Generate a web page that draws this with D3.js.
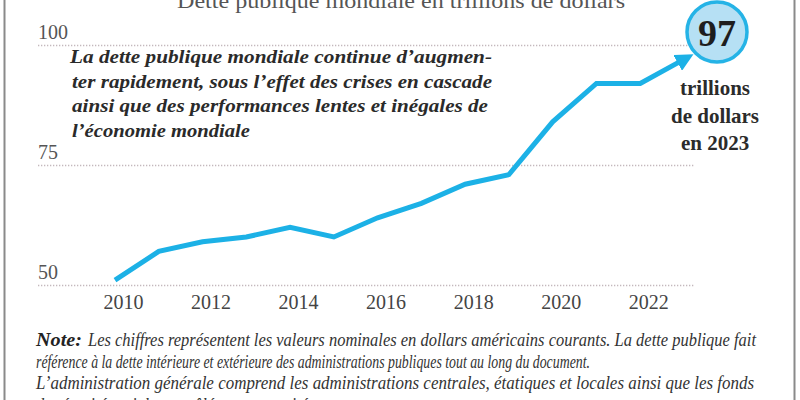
<!DOCTYPE html>
<html><head><meta charset="utf-8">
<script src="https://cdn.jsdelivr.net/npm/d3@7"></script>
<style>html,body{margin:0;padding:0;background:#fff;}svg{display:block;}</style>
</head><body>
<script>
const years = [2010,2011,2012,2013,2014,2015,2016,2017,2018,2019,2020,2021,2022,2023];
const debt  = [51,57,59,60,62,60,64,67,71,73,84,92,92,97];
const yTicks = [50,75,100];
const xTickYears = [2010,2012,2014,2016,2018,2020,2022];
const title = "Dette publique mondiale en trillions de dollars";
const annotLines = ["La dette publique mondiale continue d\u2019augmen-","ter rapidement, sous l\u2019effet des crises en cascade","ainsi que des performances lentes et inégales de","l\u2019économie mondiale"];
const calloutValue = "97";
const calloutLines = ["trillions","de dollars","en 2023"];
const noteLabel = "Note:";
const noteLines = [
 "Les chiffres représentent les valeurs nominales en dollars américains courants. La dette publique fait",
 "référence à la dette intérieure et extérieure des administrations publiques tout au long du document.",
 "L\u2019administration générale comprend les administrations centrales, étatiques et locales ainsi que les fonds",
 "de sécurité sociale contrôlés par ces unités."
];

const W=800,H=400;
const svg=d3.select("body").append("svg").attr("width",W).attr("height",H);
const serif="'Liberation Serif','Times New Roman',serif";
const blue="#1cb1e6";

const x=d3.scaleLinear().domain([2010,2023]).range([115,684]);
const y=d3.scaleLinear().domain([50,100]).range([285,45]);

// frame
svg.append("line").attr("x1",4.5).attr("x2",4.5).attr("y1",0).attr("y2",H).attr("stroke","#8a8a8a").attr("stroke-width",2);
svg.append("line").attr("x1",794.5).attr("x2",794.5).attr("y1",0).attr("y2",H).attr("stroke","#8a8a8a").attr("stroke-width",2);

// title (cut at top)
svg.append("text").attr("x",401).attr("y",8).attr("text-anchor","middle")
 .attr("font-family",serif).attr("font-size",21).attr("fill","#555")
 .attr("textLength",448).attr("lengthAdjust","spacingAndGlyphs").text(title);

// gridlines
svg.append("g").selectAll("line").data(yTicks).join("line")
 .attr("x1",38).attr("x2",695).attr("y1",d=>y(d)+0.5).attr("y2",d=>y(d)+0.5)
 .attr("stroke","#c4b8bd").attr("stroke-width",1.3).attr("stroke-dasharray","1.3,1.7");

// y labels
svg.append("g").selectAll("text").data(yTicks).join("text")
 .attr("x",38).attr("y",d=>y(d)-6).attr("font-family",serif).attr("font-size",20)
 .attr("fill","#555").text(d=>d);

// x axis labels
const xAxis=d3.axisBottom(x).tickValues(xTickYears).tickFormat(d3.format("d")).tickSize(0);
const gx=svg.append("g").attr("transform","translate(8,292)").call(xAxis);
gx.select(".domain").remove();
gx.selectAll("text").attr("font-family",serif).attr("font-size",20).attr("fill","#444").attr("dy","0.71em");

// annotation text
svg.append("g").selectAll("text").data(annotLines).join("text")
 .attr("x",(d,i)=>i===0?70:72).attr("y",(d,i)=>63+i*24.7)
 .attr("font-family",serif).attr("font-size",19).attr("font-weight","bold").attr("font-style","italic")
 .attr("fill","#2a2a2a")
 .attr("textLength",(d,i)=>[422,420,416,178][i]).attr("lengthAdjust","spacingAndGlyphs")
 .text(d=>d);

// arrow marker
svg.append("defs").append("marker").attr("id","arr").attr("viewBox","0 0 10 10")
 .attr("refX",4).attr("refY",5).attr("markerWidth",3.6).attr("markerHeight",3.6)
 .attr("orient","auto").attr("markerUnits","strokeWidth")
 .append("path").attr("d","M0,0 L10,5 L0,10 Z").attr("fill",blue);

// line
const data=years.map((yr,i)=>({yr,v:debt[i]}));
svg.append("path").datum(data)
 .attr("d",d3.line().x(d=>x(d.yr)).y(d=>y(d.v)))
 .attr("fill","none").attr("stroke",blue).attr("stroke-width",5)
 .attr("stroke-linejoin","miter").attr("stroke-linecap","butt")
 .attr("marker-end","url(#arr)");

// callout circle
svg.append("circle").attr("cx",717).attr("cy",32).attr("r",30)
 .attr("fill","#b6e0f4").attr("stroke","#25b3e6").attr("stroke-width",3.5);
svg.append("text").attr("x",717).attr("y",46).attr("text-anchor","middle")
 .attr("font-family",serif).attr("font-size",38).attr("font-weight","bold").attr("fill","#1e1e1e")
 .text(calloutValue);
svg.append("g").selectAll("text").data(calloutLines).join("text")
 .attr("x",715).attr("y",(d,i)=>95+i*27.5).attr("text-anchor","middle")
 .attr("font-family",serif).attr("font-size",21).attr("font-weight","bold").attr("fill","#2b2b2b")
 .text(d=>d);

// note
svg.append("text").attr("x",36).attr("y",346)
 .attr("font-family",serif).attr("font-size",19).attr("font-style","italic").attr("font-weight","bold")
 .attr("fill","#222").attr("textLength",46).attr("lengthAdjust","spacingAndGlyphs").text(noteLabel);
const noteX=[88,36,36,36], noteW=[668,554,718,282];
svg.append("g").selectAll("text").data(noteLines).join("text")
 .attr("x",(d,i)=>noteX[i]).attr("y",(d,i)=>346+i*21.5)
 .attr("font-family",serif).attr("font-size",19).attr("font-style","italic").attr("fill","#333")
 .attr("textLength",(d,i)=>noteW[i]).attr("lengthAdjust","spacingAndGlyphs")
 .text(d=>d);
</script>
</body></html>
